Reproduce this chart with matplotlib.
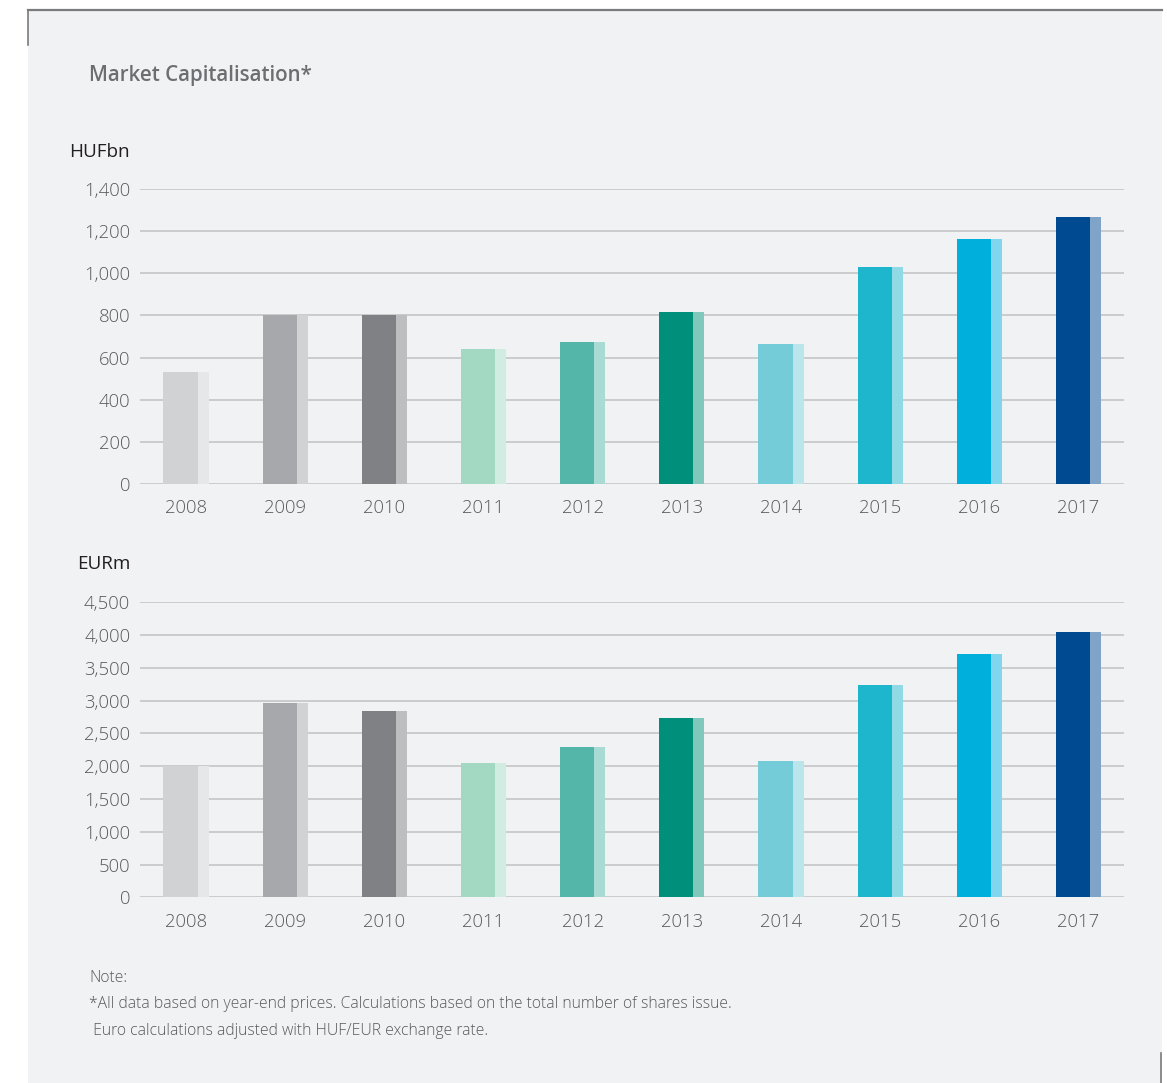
import matplotlib
matplotlib.use('Agg')
import matplotlib.pyplot as plt
from matplotlib.patches import Rectangle
from matplotlib.lines import Line2D
from matplotlib.ticker import FuncFormatter

years = ['2008', '2009', '2010', '2011', '2012', '2013', '2014', '2015', '2016', '2017']
huf_bn = [531, 800, 800, 641, 675, 817, 665, 1032, 1165, 1265]
eur_m = [2000, 2965, 2843, 2049, 2293, 2735, 2079, 3239, 3712, 4047]

main_colors = ['#d1d2d4', '#a7a8ab', '#808184', '#a3d8c3', '#54b6a8',
               '#008f7a', '#74ccd8', '#1eb6cc', '#00afdb', '#004a91']
light_colors = ['#e6e7e8', '#d1d2d4', '#bcbec0', '#d1ece1', '#a9dbd4',
                '#80c7bc', '#bae5eb', '#8fdae5', '#80d7ed', '#7fa4c8']

bg = '#f1f2f4'
grid_col = '#c4c5c7'
tick_col = '#58595b'

plt.rcParams['font.family'] = ['Open Sans', 'DejaVu Sans']

W, H = 1167, 1083
fig = plt.figure(figsize=(W / 100, H / 100), dpi=100)
fig.patch.set_facecolor('white')

# grey panel with the thin frame pieces
fig.add_artist(Rectangle((28 / W, 0), (1162 - 28) / W, 1 - 10 / H,
                         transform=fig.transFigure, facecolor=bg, edgecolor='none', zorder=0))
fig.add_artist(Line2D([28 / W, 1162 / W], [1 - 10 / H, 1 - 10 / H],
                      transform=fig.transFigure, color='#7a7b7d', lw=1.6))
fig.add_artist(Line2D([28 / W, 28 / W], [1 - 10 / H, 1 - 45 / H],
                      transform=fig.transFigure, color='#7a7b7d', lw=1.2))
fig.add_artist(Line2D([1161 / W, 1161 / W], [1 - 1053 / H, 0],
                      transform=fig.transFigure, color='#7a7b7d', lw=1.2))

fig.text(89 / W, 1 - 75 / H, 'Market Capitalisation*', fontsize=14.8, fontweight='semibold',
         color='#6d6e71', va='center', ha='left')

x = list(range(len(years)))
w_main = 0.345
w_light = 0.111
left_off = -(w_main + w_light) / 2


def draw_panel(rect, values, ymax, step, unit, unit_x, unit_y):
    ax = fig.add_axes(rect)
    ax.set_facecolor('none')
    ax.bar([i + left_off for i in x], values, width=w_main, align='edge',
           color=main_colors, zorder=3)
    ax.bar([i + left_off + w_main for i in x], values, width=w_light, align='edge',
           color=light_colors, zorder=3)
    ax.set_xlim(-0.464, 9.459)
    ax.set_ylim(0, ymax)
    ax.set_yticks(range(0, ymax + 1, step))
    ax.yaxis.set_major_formatter(FuncFormatter(lambda v, p: f'{int(v):,}'))
    ax.set_xticks(x)
    ax.set_xticklabels(years)
    ax.grid(axis='y', color=grid_col, lw=1.2, zorder=1)
    for s in ax.spines.values():
        s.set_visible(False)
    ax.tick_params(length=0, labelsize=13.3, labelcolor=tick_col)
    ax.tick_params(axis='x', pad=11)
    ax.tick_params(axis='y', pad=7)
    for lab in ax.get_xticklabels() + ax.get_yticklabels():
        lab.set_fontweight('light')
    fig.text(unit_x / W, 1 - unit_y / H, unit, fontsize=13.6,
             color='#231f20', va='center', ha='left')
    return ax


draw_panel([140 / W, 1 - 484 / H, (1124 - 140) / W, (484 - 189) / H],
           huf_bn, 1400, 200, 'HUFbn', 69, 152)
draw_panel([140 / W, 1 - 897.3 / H, (1124 - 140) / W, (897.3 - 602.3) / H],
           eur_m, 4500, 500, 'EURm', 77, 564)

note_lines = ['Note:',
              '*All data based on year-end prices. Calculations based on the total number of shares issue.',
              ' Euro calculations adjusted with HUF/EUR exchange rate.']
for k, line in enumerate(note_lines):
    fig.text(89 / W, 1 - (978 + 26.5 * k) / H, line, fontsize=11.3, fontweight='light',
             color='#58595b', va='center', ha='left')

fig.savefig('out.png', dpi=100, facecolor='white')
